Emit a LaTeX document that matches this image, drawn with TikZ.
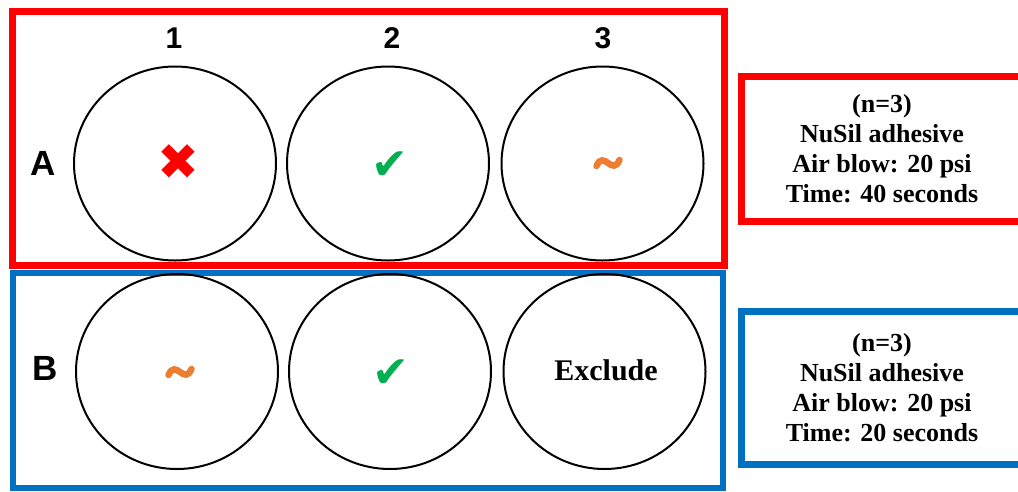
\documentclass[tikz,border=0pt]{standalone}
\usepackage{fontspec}
\setmainfont{Liberation Serif}
\setsansfont{Liberation Sans}
\newfontfamily\symfont{DejaVu Sans}
\usetikzlibrary{shapes.geometric}
\definecolor{frameRed}{HTML}{FF0000}
\definecolor{frameBlue}{HTML}{0070C0}
\definecolor{okGreen}{HTML}{00B050}
\definecolor{midOrange}{HTML}{ED7D31}
\tikzset{
  x=1pt, y=-1pt,
  well/.style={draw=black, line width=2pt, ellipse, minimum width=202pt, minimum height=194pt, inner sep=0pt},
  collabel/.style={font=\sffamily\bfseries\fontsize{30}{30}\selectfont, inner sep=0pt},
  rowlabel/.style={font=\sffamily\bfseries\fontsize{35}{35}\selectfont, inner sep=0pt},
  failmark/.style={text=frameRed, font=\symfont\fontsize{50}{50}\selectfont, inner sep=0pt},
  passmark/.style={text=okGreen, font=\symfont\fontsize{44}{44}\selectfont, inner sep=0pt},
  wave/.style={draw=midOrange, line width=6.5pt, line cap=round},
  infobox/.style={draw, line width=7pt, minimum width=281pt, inner sep=0pt, align=center,
    font=\rmfamily\bfseries\fontsize{26}{30}\selectfont},
}
% partial-result mark: a thick wavy stroke centred on the given coordinate
\newcommand\partialmark[1]{%
  \draw[wave] ([shift={(-11.5,3)}]#1) .. controls ([shift={(-8,-5)}]#1) and ([shift={(-4,-3)}]#1) .. (#1)
    .. controls ([shift={(4,3)}]#1) and ([shift={(8,5)}]#1) .. ([shift={(11.5,-3)}]#1);}
\begin{document}
\begin{tikzpicture}
  \clip (0,0) rectangle (1018,491);
  \fill[white] (0,0) rectangle (1018,491);

  % group frames
  \draw[frameRed, line width=7pt] (12.5,11.5) rectangle (724.5,265.5);
  \draw[frameBlue, line width=6pt] (12.5,272.5) rectangle (723,488);

  % column and row labels
  \node[collabel] (c1) at (174,38) {1};
  \node[collabel] (c2) at (392,38) {2};
  \node[collabel] (c3) at (603,38) {3};
  \node[rowlabel] (rA) at (43,163) {A};
  \node[rowlabel] (rB) at (45,368) {B};

  % row A wells
  \node[well] (a1) at (175,163.5) {};
  \node[well] (a2) at (388,163.5) {};
  \node[well] (a3) at (602.5,163.5) {};
  \node[failmark] (a1m) at (178,162) {✖};
  \node[passmark] (a2m) at (390,166) {✔};
  \coordinate (a3m) at (608,163);
  \partialmark{a3m}

  % row B wells
  \node[well, minimum height=195pt] (b1) at (177,371.5) {};
  \node[well, minimum height=195pt] (b2) at (390,371.5) {};
  \node[well, minimum height=195pt] (b3) at (604.5,371.5) {};
  \coordinate (b1m) at (180,372);
  \partialmark{b1m}
  \node[passmark] (b2m) at (391,374) {✔};
  \node[font=\rmfamily\bfseries\fontsize{30}{30}\selectfont, inner sep=0pt] (b3m) at (606,370) {Exclude};

  % condition boxes
  \node[infobox, draw=frameRed, minimum height=144.5pt] (infoA) at (882,148.75)
    {(n=3)\\NuSil adhesive\\Air blow: 20 psi\\Time: 40 seconds};
  \node[infobox, draw=frameBlue, minimum height=153pt] (infoB) at (882,388)
    {(n=3)\\NuSil adhesive\\Air blow: 20 psi\\Time: 20 seconds};
\end{tikzpicture}
\end{document}
